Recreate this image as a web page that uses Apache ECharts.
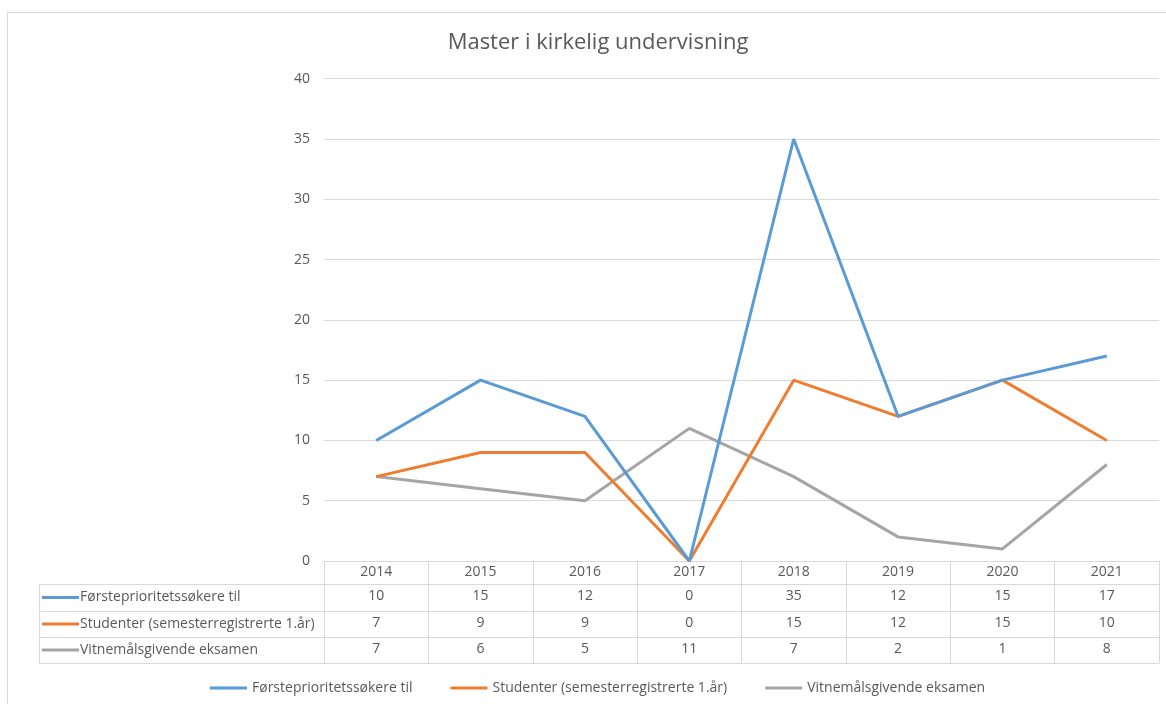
<!DOCTYPE html>
<html>
<head>
<meta charset="utf-8">
<script src="https://cdn.jsdelivr.net/npm/echarts@6/dist/echarts.min.js"></script>
<style>html,body{margin:0;padding:0;background:#fff}#c{width:1166px;height:704px}</style>
</head>
<body>
<div id="c"></div>
<script>
const titleText = 'Master i kirkelig undervisning';
const years = ['2014','2015','2016','2017','2018','2019','2020','2021'];
const seriesNames = ['Førsteprioritetssøkere til', 'Studenter (semesterregistrerte 1.år)', 'Vitnemålsgivende eksamen'];
const forsteprioritet = [10, 15, 12, 0, 35, 12, 15, 17];
const studenter = [7, 9, 9, 0, 15, 12, 15, 10];
const vitnemal = [7, 6, 5, 11, 7, 2, 1, 8];
const yTicks = { min: 0, max: 40, interval: 5 };

const seriesData = [forsteprioritet, studenter, vitnemal];
const colors = ['#5b9bd5', '#ed7d31', '#a5a5a5'];
const FONT = 'Open Sans';
const lineCol = '#d9d9d9';
const txtCol = '#595959';
const FS = 14;

const chart = echarts.init(document.getElementById('c'), null, { renderer: 'canvas' });

const gridLeft = 324, gridRight = 7, gridTop = 78.7, gridBottomY = 561;
const rowH = [23, 27, 26, 26]; // header row, then data rows
const offsets = [0];
for (let i = 0; i < rowH.length; i++) offsets.push(offsets[i] + rowH[i]);

const xAxes = [{
  type: 'category', data: years, gridIndex: 0, position: 'bottom', offset: 0,
  boundaryGap: true,
  axisLine: { show: true, lineStyle: { color: lineCol, width: 1 } },
  axisTick: { show: true, alignWithLabel: false, interval: 0, length: offsets[4], lineStyle: { color: lineCol } },
  axisLabel: { show: true, margin: 4, fontFamily: FONT, fontSize: FS, color: txtCol, interval: 0 },
  splitLine: { show: false }
}];
for (let r = 0; r < 4; r++) {
  const sd = seriesData[r];
  xAxes.push({
    type: 'category', data: years, gridIndex: 0, position: 'bottom', offset: offsets[r + 1],
    boundaryGap: true,
    axisLine: { show: true, lineStyle: { color: lineCol, width: 1 } },
    axisTick: { show: false },
    axisLabel: sd ? { show: true, margin: 5, interval: 0, fontFamily: FONT, fontSize: FS, color: txtCol,
      formatter: (v, idx) => String(sd[idx]) } : { show: false },
    splitLine: { show: false }
  });
}

const graphics = [
  { type: 'rect', shape: { x: 7.5, y: 12.5, width: 1200, height: 760 }, style: { fill: 'none', stroke: lineCol, lineWidth: 1 }, silent: true, z: -10 }
];
// row header column of the data table
const tblLeft = 39.5;
for (let r = 1; r <= 4; r++) {
  const y = gridBottomY + offsets[r] + 0.5;
  graphics.push({ type: 'line', shape: { x1: tblLeft, y1: y, x2: gridLeft, y2: y }, style: { stroke: lineCol, lineWidth: 1 }, silent: true });
}
graphics.push({ type: 'line', shape: { x1: tblLeft, y1: gridBottomY + offsets[1], x2: tblLeft, y2: gridBottomY + offsets[4] + 0.5 }, style: { stroke: lineCol, lineWidth: 1 }, silent: true });
for (let r = 0; r < 3; r++) {
  const cy = gridBottomY + (offsets[r + 1] + offsets[r + 2]) / 2;
  graphics.push({ type: 'rect', shape: { x: 42, y: cy - 1.5, width: 37, height: 3 }, style: { fill: colors[r] }, silent: true });
  graphics.push({ type: 'text', x: 80, y: cy, style: { text: seriesNames[r], fontFamily: FONT, fontSize: FS, fill: txtCol, verticalAlign: 'middle', align: 'left' }, silent: true });
}

chart.setOption({
  animation: false,
  backgroundColor: '#fff',
  title: {
    text: titleText, left: 593, top: 27, textAlign: 'center',
    textStyle: { fontFamily: FONT, fontSize: 22, fontWeight: 'normal', color: txtCol }
  },
  legend: {
    data: seriesNames, bottom: 4, left: 205, icon: 'rect', itemWidth: 37, itemHeight: 3, itemGap: 38,
    textStyle: { fontFamily: FONT, fontSize: FS, color: txtCol }
  },
  grid: { left: gridLeft, right: gridRight, top: gridTop, bottom: 704 - gridBottomY, containLabel: false, outerBoundsMode: 'none' },
  xAxis: xAxes,
  yAxis: {
    type: 'value', min: yTicks.min, max: yTicks.max, interval: yTicks.interval,
    axisLine: { show: false }, axisTick: { show: false },
    axisLabel: { margin: 14, fontFamily: FONT, fontSize: FS, color: txtCol },
    splitLine: { show: true, lineStyle: { color: lineCol, width: 1 } }
  },
  graphic: graphics,
  series: seriesNames.map((n, i) => ({
    name: n, type: 'line', xAxisIndex: 0, data: seriesData[i], symbol: 'none',
    lineStyle: { color: colors[i], width: 3 }, itemStyle: { color: colors[i] }, z: 5 - i
  }))
});
</script>
</body>
</html>
